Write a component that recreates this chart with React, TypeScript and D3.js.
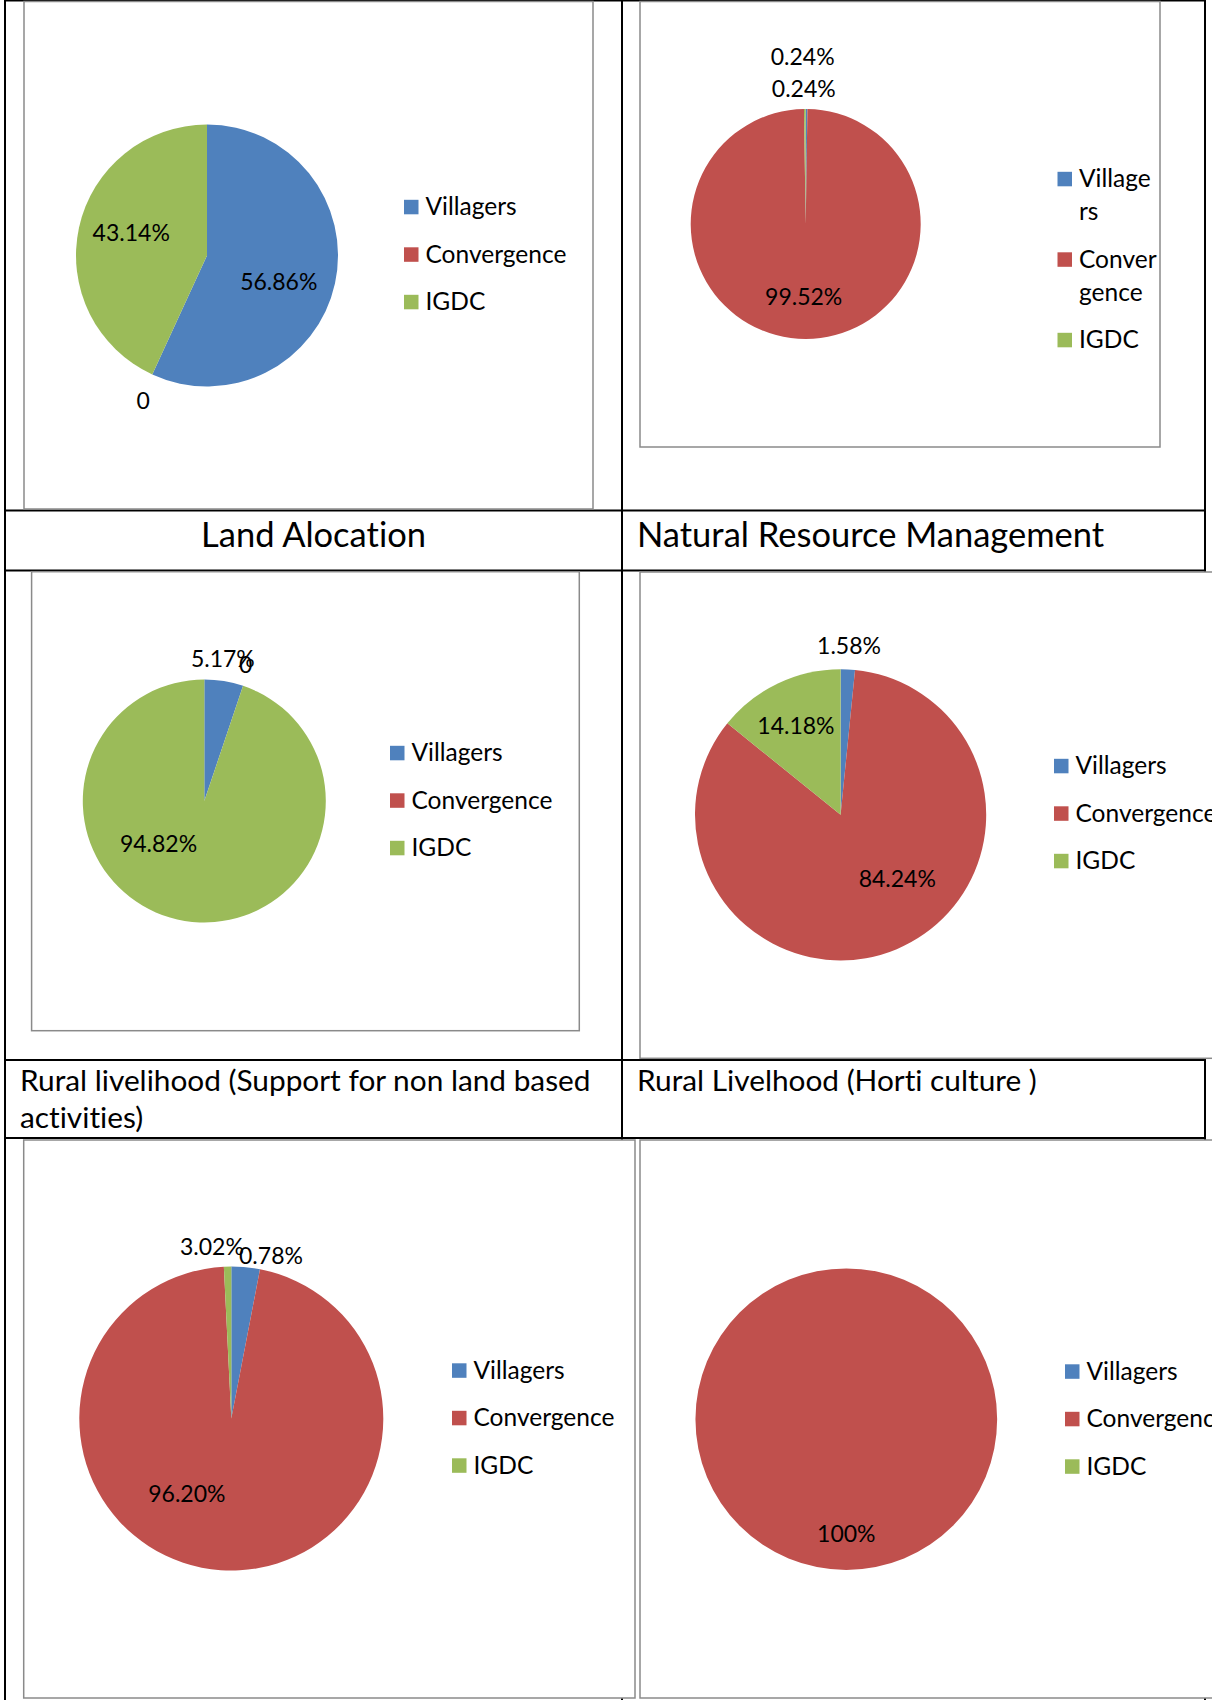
import React, { useEffect, useRef } from 'react';
import * as d3 from 'd3';

// series order is the same in every chart
const categories = ['Villagers', 'Convergence', 'IGDC'];
const sliceColors = ['#4F81BD', '#C0504D', '#9BBB59'];

// shares (%) per chart, null = no data point
const landAlocation: (number | null)[] = [56.86, 0, 43.14];
const naturalResource: (number | null)[] = [0.24, 99.52, 0.24];
const nonLandLivelihood: (number | null)[] = [5.17, 0, 94.82];
const hortiCulture: (number | null)[] = [1.58, 84.24, 14.18];
const fifthChart: (number | null)[] = [3.02, 96.2, 0.78];
const sixthChart: (number | null)[] = [null, 100, null];

const titlesRow1 = ['Land Alocation', 'Natural Resource Management'];
const titlesRow2 = [['Rural livelihood (Support for non land based', 'activities)'], ['Rural Livelhood (Horti culture )']];

// legend text in the narrow chart wraps like the original
const narrowLegend = [['Village', 'rs'], ['Conver', 'gence'], ['IGDC']];

const W = 1212;
const H = 1700;
const FONT = 'Lato, "Open Sans", sans-serif';

type ChartCfg = {
  values: (number | null)[];
  box: [number, number, number, number];
  cx: number;
  cy: number;
  r: number;
  legendX: number;
  legendY: number;
  legendLines?: string[][];
  nudge: [number, number][];
};

const charts: ChartCfg[] = [
  { values: landAlocation, box: [24, 1.5, 593, 509], cx: 207, cy: 255.5, r: 131, legendX: 404, legendY: 207, nudge: [[-5, 9], [1, 4], [1, -6]] },
  { values: naturalResource, box: [640, 1.5, 1160, 447], cx: 805.7, cy: 224, r: 115, legendX: 1057.5, legendY: 179, legendLines: narrowLegend, nudge: [[-3, 4], [-2, 4], [-2, -28]] },
  { values: nonLandLivelihood, box: [31.6, 571.7, 579.3, 1030.7], cx: 204.3, cy: 801, r: 121.5, legendX: 390, legendY: 753, nudge: [[-5, 1], [-5, 2], [-34, -29]] },
  { values: hortiCulture, box: [640, 572, 1216, 1058.3], cx: 840.6, cy: 814.8, r: 145.6, legendX: 1054, legendY: 766, nudge: [[0, 0], [23, -17], [-7, -10]] },
  { values: fifthChart, box: [23.7, 1140, 635, 1698], cx: 231.3, cy: 1418.6, r: 152, legendX: 452, legendY: 1370.5, nudge: [[-36, 3], [-38, -16], [44, 13]] },
  { values: sixthChart, box: [640, 1140, 1216, 1698], cx: 846.3, cy: 1419.2, r: 150.8, legendX: 1065, legendY: 1371.5, nudge: [[0, 0], [0, 24], [0, 0]] }
];

const fmt = (v: number | null) => {
  if (v === null) return '';
  if (v === 0) return '0';
  if (v === 100) return '100%';
  return v.toFixed(2) + '%';
};

const App = () => {
  const rootRef = useRef<SVGSVGElement>(null);

  useEffect(() => {
    const svg = d3.select(rootRef.current).attr('width', W).attr('height', H);
    svg.selectAll('*').remove();

    svg.append('rect').attr('width', W).attr('height', H).attr('fill', '#fff');

    // table grid
    const grid = svg.append('g').attr('stroke', '#000').attr('stroke-width', 2);
    [5, 622, 1205].forEach((x) => {
      grid.append('line').attr('x1', x).attr('x2', x).attr('y1', 0).attr('y2', H);
    });
    [0.5, 510.5, 570.5, 1060, 1138].forEach((y) => {
      grid.append('line').attr('x1', 5).attr('x2', 1205).attr('y1', y).attr('y2', y);
    });

    const pie = d3
      .pie<number | null>()
      .sort(null)
      .value((d) => d ?? 0);
    const labelSize = 23;
    const legendSize = 24.5;
    const capShift = labelSize * 0.358;

    charts.forEach((c) => {
      const [x0, y0, x1, y1] = c.box;
      const g = svg.append('g');
      g.append('rect')
        .attr('x', x0)
        .attr('y', y0)
        .attr('width', x1 - x0)
        .attr('height', y1 - y0)
        .attr('fill', '#fff')
        .attr('stroke', '#8a8a8a')
        .attr('stroke-width', 1.5);

      const arcs = pie(c.values);
      const arc = d3.arc<d3.PieArcDatum<number | null>>().innerRadius(0).outerRadius(c.r);
      const total = d3.sum(c.values, (d) => d ?? 0);

      g.append('g')
        .attr('transform', `translate(${c.cx},${c.cy})`)
        .selectAll('path')
        .data(arcs.filter((a) => (a.data ?? 0) > 0))
        .join('path')
        .attr('d', arc)
        .attr('fill', (a) => sliceColors[a.index]);

      // data labels: inside for big slices, outside for thin ones
      const labelPos = (a: d3.PieArcDatum<number | null>) => {
        const mid = (a.startAngle + a.endAngle) / 2;
        const frac = (a.data ?? 0) / total;
        const rr = frac < 0.1 ? c.r + 24 : c.r * 0.6;
        return [c.cx + Math.sin(mid) * rr + c.nudge[a.index][0], c.cy - Math.cos(mid) * rr + c.nudge[a.index][1]];
      };
      g.append('g')
        .selectAll('text')
        .data(arcs.filter((a) => a.data !== null))
        .join('text')
        .attr('x', (a) => labelPos(a)[0])
        .attr('y', (a) => labelPos(a)[1] + capShift)
        .attr('text-anchor', 'middle')
        .attr('font-family', FONT)
        .attr('font-size', labelSize)
        .attr('fill', '#000')
        .text((a) => fmt(a.data));

      // legend
      const lines = c.legendLines ?? categories.map((n) => [n]);
      const lineGap = 33;
      const itemGap = 47.5;
      let y = c.legendY;
      lines.forEach((ls, i) => {
        g.append('rect')
          .attr('x', c.legendX)
          .attr('y', y - 7.2)
          .attr('width', 14.5)
          .attr('height', 14.5)
          .attr('fill', sliceColors[i]);
        const t = g
          .append('text')
          .attr('font-family', FONT)
          .attr('font-size', legendSize)
          .attr('fill', '#000');
        ls.forEach((s, j) => {
          t.append('tspan')
            .attr('x', c.legendX + 21.5)
            .attr('y', y + j * lineGap + capShift)
            .text(s);
        });
        y += lineGap * (ls.length - 1) + itemGap;
      });
    });

    // row captions
    svg
      .append('text')
      .attr('x', 313.5)
      .attr('y', 547)
      .attr('text-anchor', 'middle')
      .attr('font-family', FONT)
      .attr('font-size', 34.5)
      .text(titlesRow1[0]);
    svg
      .append('text')
      .attr('x', 637)
      .attr('y', 547)
      .attr('font-family', FONT)
      .attr('font-size', 34.5)
      .text(titlesRow1[1]);

    [20, 637].forEach((x, i) => {
      const t = svg.append('text').attr('font-family', FONT).attr('font-size', 29.8);
      titlesRow2[i].forEach((s, j) => {
        t.append('tspan')
          .attr('x', x)
          .attr('y', 1091 + j * 36.5)
          .text(s);
      });
    });
  }, []);

  return (
    <svg
      ref={rootRef}
      style={{ position: 'absolute', left: 0, top: 0, display: 'block', fontVariantLigatures: 'none' }}
    ></svg>
  );
};

export default App;
